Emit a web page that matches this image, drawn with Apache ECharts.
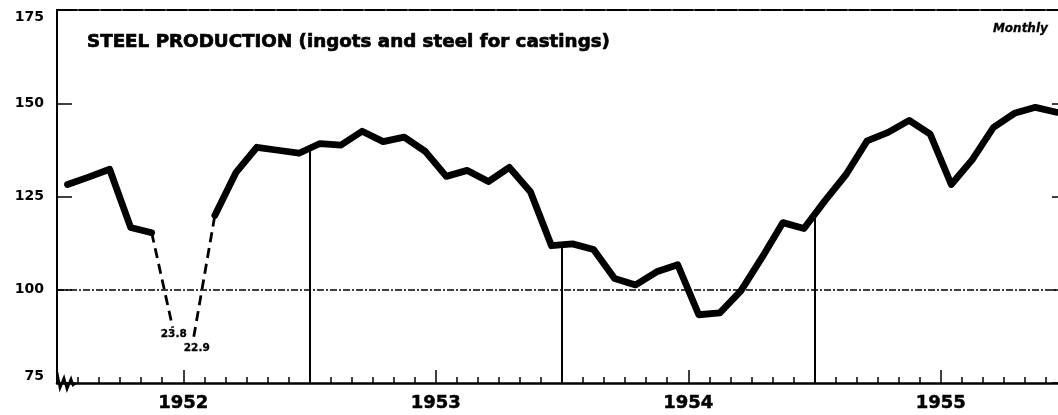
<!DOCTYPE html>
<html>
<head>
<meta charset="utf-8">
<script src="https://cdn.jsdelivr.net/npm/echarts@6/dist/echarts.min.js"></script>
<style>
html,body{margin:0;padding:0;background:#fff;}
#c{width:1058px;height:415px;}
</style>
</head>
<body>
<div id="c"></div>
<script>
// ---- data ----
var years = ['1952', '1953', '1954', '1955'];
var monthsPerYear = 12;
var production = [
  // 1952
  128.2, 130.2, 132.3, 116.7, 115.3, 23.8, 22.9, 119.9, 131.4, 138.2, 137.4, 136.6,
  // 1953
  139.2, 138.8, 142.5, 139.7, 140.9, 137.1, 130.4, 132.0, 129.0, 132.8, 126.3, 111.8,
  // 1954
  112.3, 110.8, 103.0, 101.3, 104.8, 106.7, 93.3, 93.8, 99.7, 108.6, 118.0, 116.4,
  // 1955
  123.9, 130.9, 139.9, 142.2, 145.4, 141.7, 128.2, 134.9, 143.5, 147.3, 148.9, 147.6
];
var strikeMonths = [5, 6];          // months shown off-scale (broken dashed line)
var strikeDisplay = [89.8, 87.4];   // where the dashed break ends on the chart
var yTicks = [75, 100, 125, 150, 175];
var titleText = 'STEEL PRODUCTION (ingots and steel for castings)';
var noteText = 'Monthly';

// ---- build ----
var nMonths = production.length;
var solid = [];
for (var i = 0; i < nMonths; i++) {
  var off = strikeMonths.indexOf(i) >= 0;
  solid.push([i + 0.5, off ? '-' : production[i]]);
}
var s0 = strikeMonths[0], s1 = strikeMonths[strikeMonths.length - 1];
var labelOffsets = [[1, 1], [3, 6]];
var dashed = [{ value: [s0 - 0.5, production[s0 - 1]], symbolSize: 0 }];
strikeMonths.forEach(function (m, k) {
  if (k > 0) dashed.push([m, '-']);
  dashed.push({
    value: [m + 0.5, strikeDisplay[k]],
    symbolSize: 0,
    label: {
      show: true, position: 'bottom', distance: 0, offset: labelOffsets[k],
      formatter: String(production[m]),
      color: '#000', fontFamily: 'DejaVu Sans', fontWeight: 'bold', fontSize: 10.5,
      textBorderColor: '#000', textBorderWidth: 0.3
    }
  });
});
dashed.push({ value: [s1 + 1.5, production[s1 + 1]], symbolSize: 0 });

var dropLines = [];
for (var y = 1; y < years.length; y++) {
  var xb = y * monthsPerYear;
  var yb = (production[xb - 1] + production[xb]) / 2;
  dropLines.push([{ coord: [xb, yTicks[0]] }, { coord: [xb, yb] }]);
}

var xMax = years.length * monthsPerYear;
var font = 'DejaVu Sans';

var option = {
  backgroundColor: '#fff',
  animation: false,
  grid: { left: 57, right: -9, top: 10, bottom: 32, containLabel: false, outerBoundsMode: 'none' },
  title: {
    text: titleText, left: 87, top: 33, padding: 0,
    textStyle: { fontFamily: font, fontWeight: 'bold', fontSize: 18.3, color: '#000',
      textBorderColor: '#000', textBorderWidth: 0.7 }
  },
  graphic: [
    { type: 'text', right: 10, top: 23, z: 10,
      style: { text: noteText, fill: '#000', font: 'italic bold 12px "DejaVu Sans"', stroke: '#000', lineWidth: 0.3 } },
    { type: 'polyline', z: 10,
      shape: { points: [[57, 372], [60, 388], [64, 378], [67, 389], [71, 379], [73, 385], [76, 383]] },
      style: { stroke: '#000', lineWidth: 2.5, fill: null } }
  ],
  xAxis: [
    { type: 'value', min: 0, max: xMax, interval: 1, position: 'bottom',
      axisLine: { show: true, onZero: false, lineStyle: { color: '#000', width: 2.5 } },
      axisTick: { show: true, inside: true, length: 6, lineStyle: { color: '#000', width: 1.5 } },
      axisLabel: { show: true, margin: 11, color: '#000', fontFamily: font, fontWeight: 'bold', fontSize: 18,
        textBorderColor: '#000', textBorderWidth: 0.5,
        formatter: function (v) { return (v % monthsPerYear === monthsPerYear / 2) ? years[(v - monthsPerYear / 2) / monthsPerYear] : ''; } },
      splitLine: { show: false } },
    { type: 'value', min: 0, max: xMax, interval: monthsPerYear / 2, position: 'bottom',
      axisLine: { show: false, onZero: false },
      axisTick: { show: true, inside: true, length: 13, lineStyle: { color: '#000', width: 1.5 } },
      axisLabel: { show: false }, splitLine: { show: false } },
    { type: 'value', min: 0, max: xMax, position: 'top',
      axisLine: { show: true, onZero: false, lineStyle: { color: '#000', width: 2, type: [20, 2] } },
      axisTick: { show: false }, axisLabel: { show: false }, splitLine: { show: false } }
  ],
  yAxis: [
    { type: 'value', min: yTicks[0], max: yTicks[yTicks.length - 1], interval: 25, position: 'left',
      axisLine: { show: true, onZero: false, lineStyle: { color: '#000', width: 2 } },
      axisTick: { show: true, inside: true, length: 15, lineStyle: { color: '#000', width: 1.5 } },
      axisLabel: { margin: 13, color: '#000', fontFamily: font, fontWeight: 'bold', fontSize: 14,
        verticalAlignMaxLabel: 'top', verticalAlignMinLabel: 'bottom' },
      splitLine: { show: false } },
    { type: 'value', min: yTicks[0], max: yTicks[yTicks.length - 1], interval: 25, position: 'right',
      axisLine: { show: true, onZero: false, lineStyle: { color: '#000', width: 2 } },
      axisTick: { show: true, inside: true, length: 15, lineStyle: { color: '#000', width: 1.5 } },
      axisLabel: { show: false }, splitLine: { show: false } }
  ],
  series: [
    { type: 'line', data: [], z: 1, silent: true,
      markLine: {
        silent: true, symbol: 'none', label: { show: false },
        data: [
          { yAxis: 100, lineStyle: { color: '#000', width: 1.5, type: [7, 2, 2, 2] } }
        ].concat(dropLines.map(function (d) {
          return [Object.assign({}, d[0], { lineStyle: { color: '#000', width: 2, type: 'solid' } }), d[1]];
        }))
      } },
    { type: 'line', data: dashed, z: 2, showSymbol: true, symbol: 'circle', symbolSize: 0, connectNulls: false,
      itemStyle: { color: '#000' },
      lineStyle: { color: '#000', width: 2.8, type: [10, 6] } },
    { type: 'line', data: solid, z: 3, showSymbol: false, symbol: 'none', connectNulls: false,
      lineStyle: { color: '#000', width: 6.8, join: 'round', cap: 'round' } }
  ]
};
var chart = echarts.init(document.getElementById('c'), null, { renderer: 'canvas' });
chart.setOption(option);
</script>
</body>
</html>
